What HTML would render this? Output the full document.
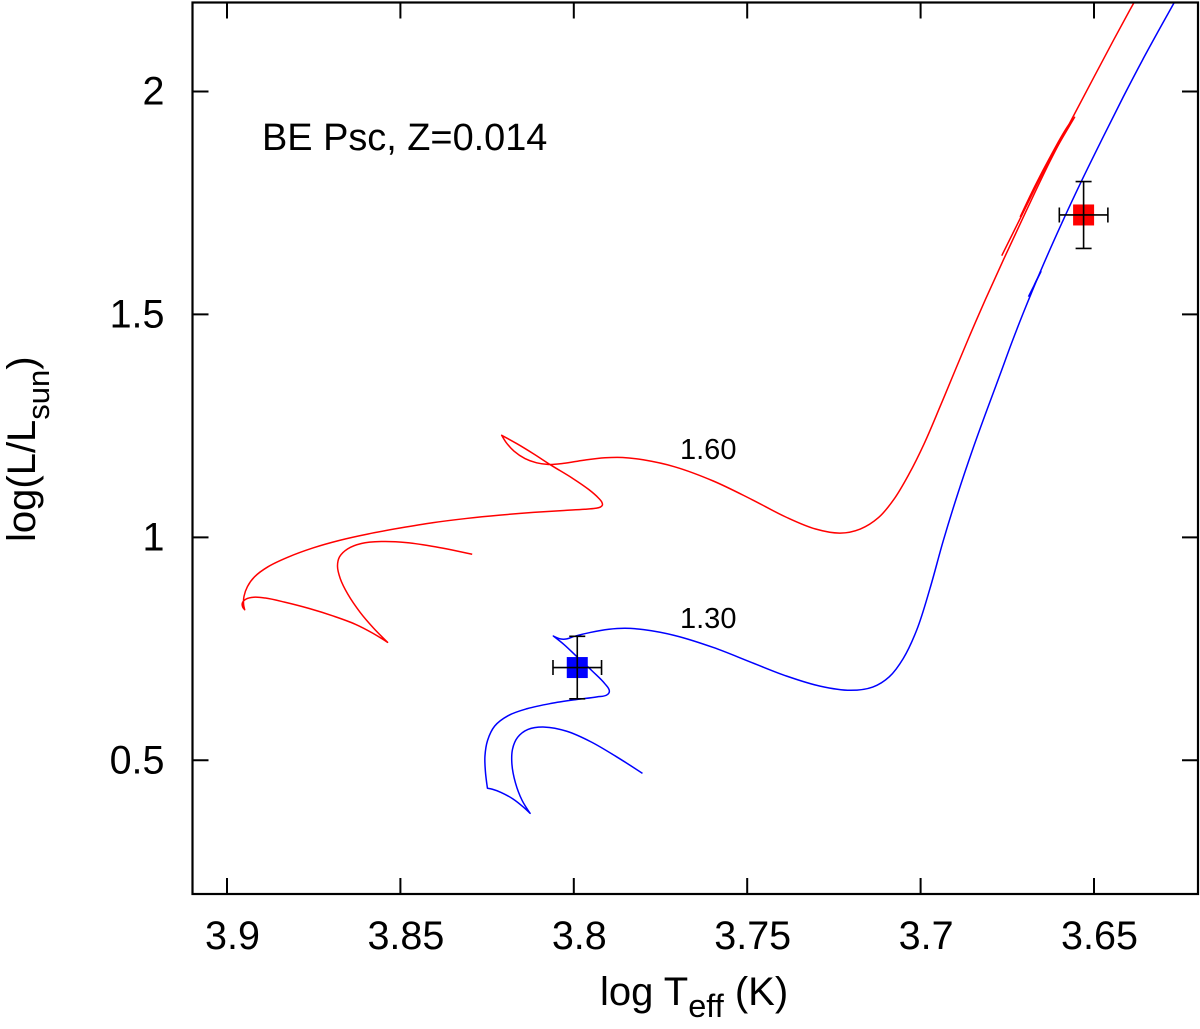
<!DOCTYPE html>
<html lang="en">
<head>
<meta charset="utf-8">
<title>BE Psc HR diagram</title>
<style>
html,body{margin:0;padding:0;background:#fff;}
svg{display:block;font-family:"Liberation Sans",Arial,sans-serif;fill:#000;}
</style>
</head>
<body>
<svg id="chart" xmlns="http://www.w3.org/2000/svg" width="1200" height="1029" viewBox="0 0 1200 1029">
<defs><clipPath id="plot-clip"><rect x="192.5" y="2.5" width="1005.5" height="891.5"/></clipPath></defs>
<rect x="0" y="0" width="1200" height="1029" fill="#fff"/>
<g id="tracks" clip-path="url(#plot-clip)"></g>
<g id="stars"></g>
<g id="ticks"></g>
<rect x="192.5" y="2.5" width="1005.5" height="891.5" fill="none" stroke="#000" stroke-width="2.2"/>
<text x="262" y="150" font-size="37.9">BE Psc, Z=0.014</text>
<text x="680" y="459" font-size="29">1.60</text>
<text x="680" y="628" font-size="29">1.30</text>
<text x="600" y="1005" font-size="40">log T<tspan font-size="32.5" dy="12">eff</tspan><tspan dy="-12"> (K)</tspan></text>
<text transform="translate(35,542) rotate(-90)" font-size="40">log(L/L<tspan font-size="31" dy="14">sun</tspan><tspan dy="-14">)</tspan></text>
</svg>
<script>
// Tick values
const xTickValues = [3.9, 3.85, 3.8, 3.75, 3.7, 3.65];
const xTickLabels = ["3.9", "3.85", "3.8", "3.75", "3.7", "3.65"];
const yTickValues = [0.5, 1, 1.5, 2];
const yTickLabels = ["0.5", "1", "1.5", "2"];

// 1.60 Msun track
const redTeff = [3.8293,3.8405,3.8482,3.8559,3.8616,3.8655,3.8679,3.8684,3.8676,3.8655,3.8616,3.8578,3.8537,3.8578,3.8626,3.8693,3.8761,3.8838,3.8895,3.8924,3.8948,3.8958,3.8956,3.8949,3.8953,3.8953,3.8943,3.8924,3.8886,3.8828,3.8751,3.8674,3.8597,3.8501,3.8405,3.8309,3.8213,3.8117,3.802,3.7963,3.7934,3.7922,3.7916,3.7918,3.7924,3.7953,3.8001,3.8069,3.8117,3.8165,3.8208,3.8198,3.8174,3.8141,3.8107,3.8074,3.8035,3.7973,3.7905,3.7861,3.7809,3.7713,3.7598,3.7482,3.7386,3.73,3.7228,3.7175,3.7117,3.7079,3.7031,3.6992,3.6944,3.6896,3.6858,3.6814,3.6766,3.6694,3.6627,3.656,3.6497,3.6444,3.6387,3.6379];
const redLogL = [0.962,0.9806,0.9896,0.9918,0.988,0.9754,0.9566,0.938,0.9082,0.8745,0.8297,0.796,0.7646,0.7848,0.8057,0.8236,0.8409,0.8557,0.8656,0.8669,0.8624,0.8534,0.8431,0.8377,0.8483,0.8669,0.8893,0.9118,0.9342,0.9553,0.9777,0.9941,1.0075,1.021,1.0338,1.0427,1.0501,1.0562,1.0607,1.0629,1.0652,1.0674,1.0719,1.0782,1.0853,1.1062,1.1324,1.1623,1.1885,1.2109,1.2289,1.2145,1.1921,1.175,1.1661,1.1623,1.1645,1.1735,1.1795,1.1802,1.1757,1.1623,1.1286,1.0838,1.0427,1.0149,1.0059,1.0149,1.0427,1.08,1.1437,1.2033,1.293,1.3827,1.4538,1.5323,1.6153,1.7342,1.8463,1.9434,2.0369,2.1154,2.1962,2.2074];
const redClumpTeff = [3.6766,3.6699,3.6656,3.6612,3.6556,3.6569,3.6627,3.667,3.6713];
const redClumpLogL = [1.6317,1.7364,1.8059,1.8687,1.9421,1.9338,1.853,1.7902,1.7185];

// 1.30 Msun track
const blueTeff = [3.7802,3.7876,3.7953,3.802,3.8088,3.8136,3.8165,3.8179,3.8181,3.817,3.815,3.8126,3.8141,3.8174,3.8213,3.8237,3.8249,3.8256,3.8258,3.8251,3.8232,3.8193,3.8136,3.8069,3.7992,3.7924,3.79,3.7894,3.7905,3.7944,3.7992,3.803,3.8059,3.8035,3.802,3.8006,3.7953,3.7896,3.7852,3.7809,3.7713,3.7598,3.7482,3.7386,3.729,3.7194,3.7136,3.7088,3.705,3.7011,3.6973,3.6935,3.6896,3.6848,3.6809,3.6771,3.6733,3.6711,3.6656,3.6598,3.6531,3.6473,3.6416,3.6358,3.631,3.6271,3.6263];
const blueLogL = [0.4708,0.5081,0.544,0.568,0.5776,0.5718,0.5529,0.5269,0.4933,0.4484,0.4072,0.3811,0.3924,0.4148,0.4296,0.4363,0.4372,0.4782,0.5081,0.5455,0.5792,0.6016,0.6166,0.6278,0.6368,0.6426,0.6464,0.6538,0.6689,0.6987,0.7323,0.7624,0.7788,0.7698,0.7714,0.7772,0.7871,0.7951,0.7967,0.7951,0.7833,0.7548,0.7175,0.6875,0.6637,0.6532,0.6615,0.6839,0.7249,0.7848,0.8819,0.9956,1.0912,1.2033,1.2856,1.3641,1.4464,1.4897,1.5958,1.6967,1.8088,1.8985,1.9882,2.0744,2.1417,2.1962,2.2074];
const blueClumpTeff = [3.6689,3.6653,3.6673,3.6685];
const blueClumpLogL = [1.5397,1.5958,1.567,1.541];

// Observed positions of the two components
const starNames = ["red", "blue"];
const starTeff = [3.653, 3.799];
const starLogL = [1.723, 0.708];
const starErrTeff = [0.007, 0.007];
const starErrLogL = [0.075, 0.07];

// Axis functions
function xScale(t){ return 227 + (3.9 - t) * 3468; }
function yScale(l){ return 760.3 - (l - 0.5) * 445.9; }

const NS = "http://www.w3.org/2000/svg";
function shape(tag, attrs, parent){
  const el = document.createElementNS(NS, tag);
  for (const k in attrs) el.setAttribute(k, attrs[k]);
  parent.appendChild(el);
  return el;
}

// Smooth path through the track, keeping sharp cusps
function trackPath(teff, logL){
  let pts = teff.map((t, i) => [xScale(t), yScale(logL[i])]);
  const cusp = pts.map((p, i) => {
    if (i === 0 || i === pts.length - 1) return true;
    const a = [p[0] - pts[i-1][0], p[1] - pts[i-1][1]];
    const b = [pts[i+1][0] - p[0], pts[i+1][1] - p[1]];
    const cos = (a[0]*b[0] + a[1]*b[1]) / ((Math.hypot(a[0], a[1]) || 1) * (Math.hypot(b[0], b[1]) || 1));
    return cos < 0.3;
  });
  pts = pts.map((p, i) => cusp[i] ? p : [
    0.2*pts[i-1][0] + 0.6*p[0] + 0.2*pts[i+1][0],
    0.2*pts[i-1][1] + 0.6*p[1] + 0.2*pts[i+1][1]
  ]);
  const tan = pts.map((p, i) => {
    if (cusp[i]) return [0, 0];
    const a = [p[0] - pts[i-1][0], p[1] - pts[i-1][1]];
    const b = [pts[i+1][0] - p[0], pts[i+1][1] - p[1]];
    const la = Math.hypot(a[0], a[1]) || 1, lb = Math.hypot(b[0], b[1]) || 1;
    const c = [a[0]/la + b[0]/lb, a[1]/la + b[1]/lb];
    const lc = Math.hypot(c[0], c[1]) || 1;
    return [c[0]/lc, c[1]/lc];
  });
  let d = "M" + pts[0][0].toFixed(2) + " " + pts[0][1].toFixed(2);
  for (let i = 1; i < pts.length; i++){
    const p = pts[i-1], q = pts[i];
    const s = Math.hypot(q[0]-p[0], q[1]-p[1]) / 3;
    d += " C" + (p[0] + tan[i-1][0]*s).toFixed(2) + " " + (p[1] + tan[i-1][1]*s).toFixed(2) +
         " " + (q[0] - tan[i][0]*s).toFixed(2) + " " + (q[1] - tan[i][1]*s).toFixed(2) +
         " " + q[0].toFixed(2) + " " + q[1].toFixed(2);
  }
  return d;
}

const tracksG = document.getElementById("tracks");
const trackStyle = {fill: "none", "stroke-width": 1.5, "stroke-linejoin": "round"};

const redTrack = shape("path", Object.assign({d: trackPath(redTeff, redLogL), stroke: "#ff0000"}, trackStyle), tracksG);


const redClump = shape("path", Object.assign({d: trackPath(redClumpTeff, redClumpLogL), stroke: "#ff0000"}, trackStyle), tracksG);


const blueTrack = shape("path", Object.assign({d: trackPath(blueTeff, blueLogL), stroke: "#0000ff"}, trackStyle), tracksG);


const blueClump = shape("path", Object.assign({d: trackPath(blueClumpTeff, blueClumpLogL), stroke: "#0000ff"}, trackStyle), tracksG);



// Stars: square plus error bars
const starsG = document.getElementById("stars");
const starFill = ["#ff0000", "#0000ff"];
starTeff.forEach((t, i) => {
  const cx = xScale(t), cy = yScale(starLogL[i]);
  const sq = shape("rect", {x: cx - 10.5, y: cy - 10.5, width: 21, height: 21, fill: starFill[i]}, starsG);
  
  
  const x0 = xScale(t + starErrTeff[i]), x1 = xScale(t - starErrTeff[i]);
  const y0 = yScale(starLogL[i] + starErrLogL[i]), y1 = yScale(starLogL[i] - starErrLogL[i]);
  const bar = shape("path", {
    d: "M" + x0 + " " + cy + "H" + x1 +
       "M" + x0 + " " + (cy-7.5) + "V" + (cy+7.5) +
       "M" + x1 + " " + (cy-7.5) + "V" + (cy+7.5) +
       "M" + cx + " " + y0 + "V" + y1 +
       "M" + (cx-8) + " " + y0 + "H" + (cx+8) +
       "M" + (cx-8) + " " + y1 + "H" + (cx+8),
    fill: "none", stroke: "#000", "stroke-width": 1.6
  }, starsG);
  
  
});

// Ticks and tick labels
const ticksG = document.getElementById("ticks");
const TOP = 2.5, BOTTOM = 894, LEFT = 192.5, RIGHT = 1198, TICK = 16;
xTickValues.forEach((v, i) => {
  const x = xScale(v);
  const tk = shape("path", {d: "M" + x + " " + BOTTOM + "V" + (BOTTOM - TICK) + "M" + x + " " + TOP + "V" + (TOP + TICK), stroke: "#000", "stroke-width": 2, fill: "none"}, ticksG);
  
  
  const lb = shape("text", {x: x + 5.5, y: 949, "font-size": 39.5, "text-anchor": "middle"}, ticksG);
  lb.textContent = xTickLabels[i];
  
  
});
yTickValues.forEach((v, i) => {
  const y = yScale(v);
  const tk = shape("path", {d: "M" + LEFT + " " + y + "H" + (LEFT + TICK) + "M" + RIGHT + " " + y + "H" + (RIGHT - TICK), stroke: "#000", "stroke-width": 2, fill: "none"}, ticksG);
  
  
  const lb = shape("text", {x: 164.5, y: y + 13, "font-size": 39.5, "text-anchor": "end"}, ticksG);
  lb.textContent = yTickLabels[i];
  
  
});
</script>
</body>
</html>
